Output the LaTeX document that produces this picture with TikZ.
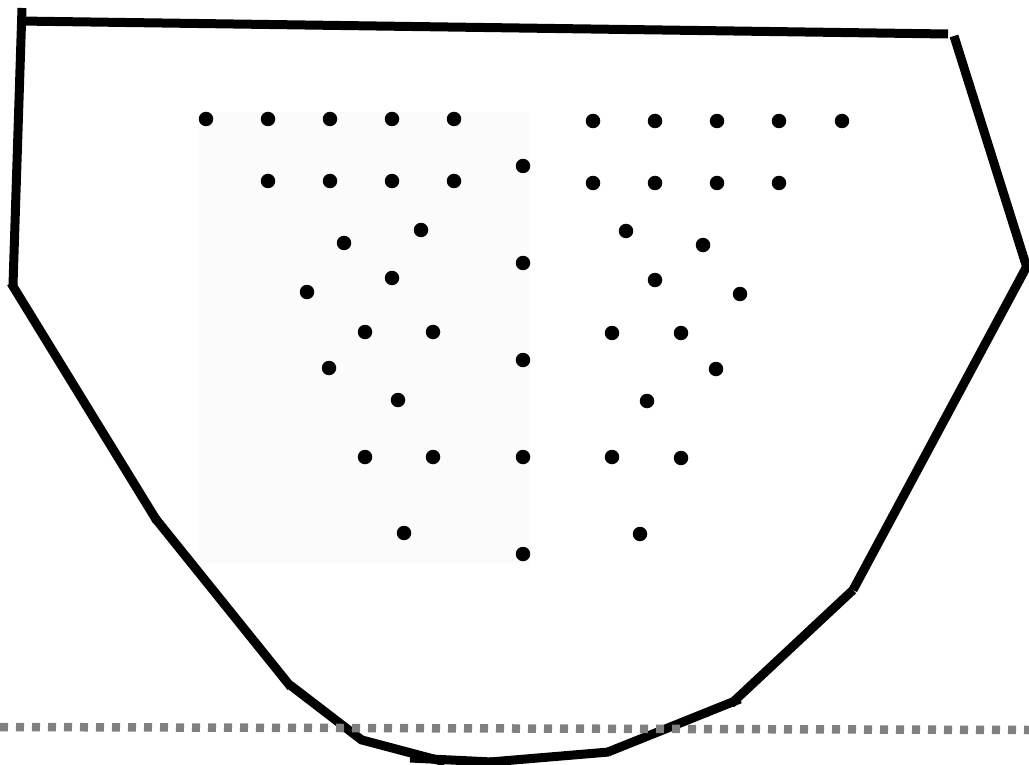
\documentclass[tikz,border=0pt]{standalone}
\usepackage{tikz}
\usepackage{xcolor}
\usetikzlibrary{positioning, calc}
\definecolor{ink}{HTML}{000000}
\definecolor{haze}{HTML}{FBFBFB}
\definecolor{level}{HTML}{808080}
\tikzset{
  %
  rim/.style={draw=ink, line width=9pt, line cap=butt},
  pebble/.style={circle, fill=ink, inner sep=0pt, minimum size=14.5pt},
  %
  shade/.style={fill=haze, draw=none},
  waterline/.style={draw=level, line width=8.5pt, dash pattern=on 8pt off 8pt},
}
\begin{document}
\begin{tikzpicture}[x=1pt, y=-1pt]

  \useasboundingbox (0,0) rectangle (1029,765);

  % --- faint backdrop behind the left half ---------------------------------
  \fill[shade] (198,112) rectangle (530,563);

  % --- the vessel outline, piece by piece ----------------------------------
  \draw[rim] (22,8) -- (13,285);
  \draw[rim] (19,21) -- (948,34);
  \draw[rim] (954,36) -- (1027,268);
  \draw[rim] (1027,266) -- (853,590);
  \draw[rim] (853,590) -- (731,704);
  \draw[rim] (740,699) -- (608,752);
  \draw[rim] (609,752) -- (490,762);
  \draw[rim] (492,762) -- (410,758);
  \draw[rim] (445,762) -- (362,740);
  \draw[rim] (363,741) -- (290,685);
  \draw[rim] (291,687) -- (155,518);
  \draw[rim] (157,521) -- (11,283);

  % --- the level line --------------------------------------------------------
  \draw[waterline] (0,727) -- (1029,730);

  % --- top rows ----------------------------------------------------------------
  \foreach \x [count=\i] in {206,268,330,392,454}
    \node[pebble] (la\i) at (\x,119) {};
  \foreach \x [count=\i] in {268,330,392,454}
    \node[pebble] (lb\i) at (\x,181) {};
  \foreach \x [count=\i] in {593,655,717,779,842}
    \node[pebble] (ra\i) at (\x,121) {};
  \foreach \x [count=\i] in {593,655,717,779}
    \node[pebble] (rb\i) at (\x,183) {};

  % --- the middle column -------------------------------------------------------
  \foreach \y [count=\i] in {166,263,360,457,554}
    \node[pebble] (m\i) at (523,\y) {};

  % --- scattered below -----------------------------------------------------
  \foreach \p [count=\i] in {(421,230),(344,243),(392,278),(307,292),(365,332),
      (433,332),(329,368),(398,400),(365,457),(433,457),(404,533)}
    \node[pebble] (ls\i) at \p {};
  \foreach \p [count=\i] in {(626,231),(703,245),(655,280),(740,294),(612,333),
      (681,333),(716,369),(647,401),(612,457),(681,458),(640,534)}
    \node[pebble] (rs\i) at \p {};

\end{tikzpicture}
\end{document}
